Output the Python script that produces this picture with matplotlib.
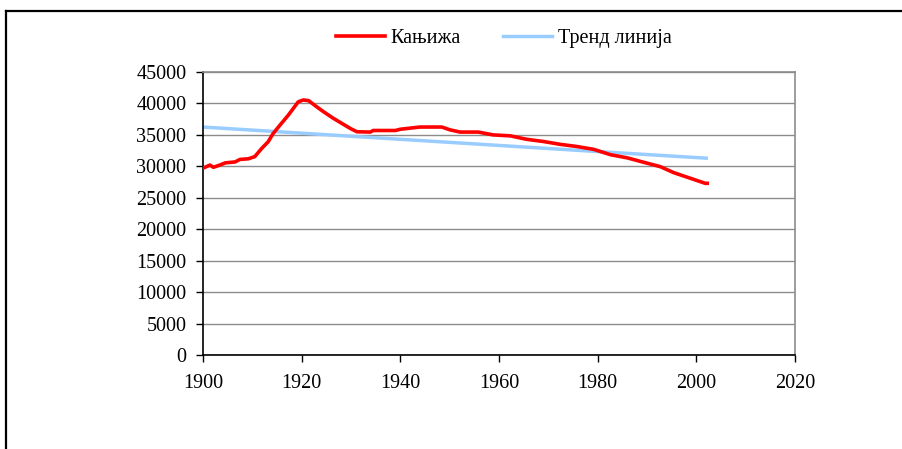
import matplotlib
matplotlib.use("Agg")
import matplotlib.pyplot as plt
from matplotlib.lines import Line2D

plt.rcParams['font.family'] = ['Liberation Serif', 'DejaVu Serif']

# Kanjiza population series
years_k = [1900, 1901.4, 1902.1, 1903.4, 1904.5, 1906.5, 1907.5, 1909.2, 1910.5,
           1911.9, 1913.2, 1914.2, 1915.6, 1917.3, 1918.3, 1919.3, 1920.3, 1921.4,
           1923, 1924.4, 1926.4, 1928.1, 1929.8, 1931.2, 1933.9, 1934.5, 1939,
           1940, 1944, 1948.4, 1950.1, 1952.1, 1955.8, 1958.8, 1962.3, 1965.6,
           1969, 1972.4, 1975.8, 1979.2, 1982.6, 1986, 1989.3, 1992.7, 1995.4,
           1998.8, 2001.8, 2002.2]
pop_k = [29700, 30200, 29850, 30200, 30550, 30700, 31100, 31200, 31550,
         32850, 33900, 35200, 36550, 38150, 39200, 40250, 40550, 40450,
         39500, 38700, 37650, 36850, 36050, 35500, 35450, 35700, 35700,
         35900, 36250, 36250, 35800, 35450, 35450, 35000, 34850, 34300,
         33950, 33500, 33150, 32700, 31850, 31350, 30650, 29950, 29000,
         28100, 27300, 27300]

# Trend line
years_t = [1900, 1940, 1980, 2002]
pop_t = [36250, 34300, 32350, 31300]

series_labels = ['Кањижа', 'Тренд линија']
x_ticks = [1900, 1920, 1940, 1960, 1980, 2000, 2020]
y_ticks = list(range(0, 45001, 5000))

fig = plt.figure(figsize=(9.03, 4.49), dpi=100)
ax = fig.add_axes([0.2248, 0.2094, 0.6556, 0.6302])

ax.plot(years_k, pop_k, color='#FF0000', lw=2.6, label=series_labels[0], zorder=3,
        solid_joinstyle='round')
ax.plot(years_t, pop_t, color='#99CCFF', lw=2.5, label=series_labels[1], zorder=2)

ax.set_xlim(1900, 2020)
ax.set_ylim(0, 45000)
ax.set_xticks(x_ticks)
ax.set_yticks(y_ticks)
ax.set_xticklabels([str(v) for v in x_ticks])
ax.set_yticklabels([str(v) for v in y_ticks])
ax.yaxis.grid(True, color='#8c8c8c', lw=1)
ax.set_axisbelow(True)

for s in ['top', 'right']:
    ax.spines[s].set_color('#8c8c8c')
    ax.spines[s].set_linewidth(1.2)
for s in ['left', 'bottom']:
    ax.spines[s].set_color('black')
    ax.spines[s].set_linewidth(1.2)

ax.tick_params(axis='both', direction='out', length=5, width=1, colors='black',
               labelsize=14.5)
ax.tick_params(axis='x', pad=9)
ax.tick_params(axis='y', pad=7)

fig.legend(loc='center', bbox_to_anchor=(0.558, 0.915), ncol=2, frameon=False,
           fontsize=14.5, handlelength=2.4, handletextpad=0.3, columnspacing=2.1)

# outer border (left and top)
fig.add_artist(Line2D([6.5 / 903, 6.5 / 903], [0, 1 - 10.5 / 449], color='black',
                      lw=1.6, transform=fig.transFigure))
fig.add_artist(Line2D([6.5 / 903, 1.0], [1 - 10.5 / 449, 1 - 10.5 / 449], color='black',
                      lw=1.6, transform=fig.transFigure))

fig.savefig('out.png', dpi=100)
